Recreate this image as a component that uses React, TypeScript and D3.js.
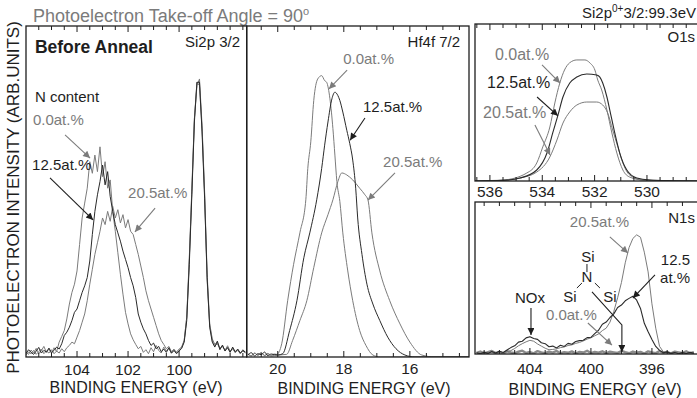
import React from 'react';
import * as d3 from 'd3';

const FONT = '"Liberation Sans", Arial, Helvetica, sans-serif';
const GRAY = '#7b7b7b';
const INK = '#1e1e1e';

type Pt = [number, number];

// ---------- Si 2p 3/2 spectra, sampled every 0.1 eV from 106.0 down to 97.4 eV ----------
const SI2P_EV = d3.range(87).map((i) => Math.round((106 - 0.1 * i) * 10) / 10);
const SI2P_N00 = [
  1.5, 0.8, 2.1, 1.2, 2.6, 1.0, 1.9, 3.2, 1.4, 2.4, 1.1,
  2.8, 1.6, 4.5, 6.2, 8.0, 11.5, 16.0, 19.5, 22.0, 26.0,
  34.0, 42.0, 46.5, 51.0, 59.0, 55.5, 61.0, 56.0, 63.5, 54.5,
  59.0, 51.0, 53.5, 44.0, 38.0, 31.5, 25.0, 19.0, 13.5, 10.0,
  7.0, 5.2, 3.8, 2.5, 3.2, 1.4, 2.2, 1.0, 2.8, 1.6,
  3.5, 2.0, 1.2, 3.0, 1.8, 2.6, 1.1, 2.0, 1.5, 2.4,
  3.0, 5.0, 12, 30, 50, 72, 82, 84, 70, 50,
  25, 10, 5.5, 3.8, 4.5, 2.6, 3.4, 2.0, 3.0, 1.6,
  2.5, 1.3, 2.2, 1.0, 1.8, 1.2,
];
const SI2P_N125 = [
  1.0, 2.2, 1.4, 0.8, 1.8, 2.9, 1.2, 2.0, 1.5, 2.7, 1.3,
  2.0, 3.0, 2.4, 4.0, 6.5, 7.5, 9.0, 11.0, 13.5, 14.5,
  17.0, 19.5, 21.5, 24.0, 29.0, 37.0, 44.0, 49.0, 53.0, 58.0,
  52.0, 56.0, 48.5, 44.0, 40.0, 37.5, 35.0, 32.0, 29.5, 27.0,
  24.0, 21.5, 18.0, 13.0, 10.5, 8.5, 7.0, 5.0, 3.5, 4.2,
  2.5, 3.2, 1.6, 2.4, 1.4, 2.8, 1.2, 2.0, 1.0, 1.8,
  2.6, 4.5, 11, 28, 49, 71, 83, 83, 68, 48,
  24, 9, 4.5, 3.0, 4.8, 2.2, 3.6, 1.8, 2.8, 1.4,
  3.0, 1.6, 2.4, 1.2, 2.0, 1.5,
];
const SI2P_N205 = [
  0.6, 1.5, 1.0, 2.0, 0.8, 1.6, 2.4, 1.0, 1.8, 1.2, 2.2,
  1.0, 1.8, 1.2, 2.5, 1.6, 2.8, 3.5, 4.5, 4.0, 6.0,
  8.0, 10.5, 13.0, 17.0, 22.0, 26.5, 31.0, 34.5, 38.0, 42.0,
  40.0, 44.0, 41.0, 45.5, 42.0, 44.5, 40.5, 43.0, 39.0, 41.5,
  38.0, 37.0, 34.0, 31.0, 27.5, 24.0, 20.0, 17.0, 14.5, 12.0,
  9.5, 7.0, 5.0, 3.8, 2.5, 3.2, 1.6, 2.4, 1.2, 2.0,
  2.8, 5.0, 12, 29, 51, 72, 83, 82, 69, 49,
  23, 9.5, 5.0, 3.4, 4.0, 2.6, 3.2, 2.0, 3.4, 1.8,
  2.6, 1.4, 2.0, 1.0, 2.2, 1.4,
];

// ---------- Hf 4f 7/2 spectra: [binding energy (eV), intensity] ----------
const HF_N00: Pt[] = [
  [20.9, 1.0], [20.8, 0.4], [20.7, 1.2], [20.6, 0.6], [20.5, 1.4], [20.4, 0.5], [20.3, 1.1],
  [20.2, 0.5], [20.1, 0.9], [20.03, 0.8], [19.88, 4], [19.7, 17], [19.52, 28], [19.33, 37.5],
  [19.15, 47.5], [19.09, 57], [19.0, 65], [18.91, 77.5], [18.79, 84], [18.67, 85], [18.58, 83.5],
  [18.52, 83], [18.42, 78], [18.33, 69], [18.27, 61], [18.21, 53], [18.12, 47], [18.03, 37.5],
  [17.88, 26], [17.73, 17], [17.52, 8], [17.33, 3.5], [17.12, 0.6], [16.9, 0], [14.2, 0],
];
const HF_N125: Pt[] = [
  [20.9, 0.6], [20.8, 1.3], [20.7, 0.3], [20.6, 1.0], [20.5, 0.7], [20.4, 1.5], [20.3, 0.4],
  [20.2, 0.9], [20.0, 0.6], [19.85, 1], [19.64, 8], [19.42, 17], [19.21, 30], [19.03, 37.5],
  [18.82, 47.5], [18.67, 57], [18.58, 64], [18.48, 71], [18.36, 78], [18.27, 80], [18.18, 79],
  [18.12, 77.5], [18.03, 74], [17.91, 68.5], [17.82, 64.5], [17.73, 59.5], [17.64, 51],
  [17.58, 42], [17.45, 31], [17.3, 22], [17.12, 16], [16.91, 11], [16.67, 6], [16.42, 2.5],
  [16.15, 0.6], [15.85, 0], [14.2, 0],
];
const HF_N205: Pt[] = [
  [20.9, 0.8], [20.8, 0.3], [20.7, 1.1], [20.6, 0.5], [20.5, 1.2], [20.4, 0.4], [20.3, 0.9],
  [20.2, 0.3], [20.09, 0.5], [19.73, 0.8], [19.55, 5], [19.33, 11], [19.12, 17], [18.91, 27],
  [18.67, 37.5], [18.48, 43], [18.33, 47.5], [18.18, 53], [18.06, 55.6], [17.91, 55],
  [17.73, 53.5], [17.52, 51], [17.36, 49], [17.27, 47.5], [17.15, 37.5], [16.91, 26],
  [16.61, 17], [16.3, 10], [16.0, 4.5], [15.64, 0.6], [15.24, 0], [14.2, 0],
];

// ---------- O 1s spectra ----------
const O1S_N00: Pt[] = [
  [536.57, 0], [536.0, 0.3], [535.5, 0.6], [534.59, 5.1], [534.21, 11.5], [533.98, 21.7],
  [533.71, 34.4], [533.52, 49.7], [533.33, 62.4], [533.15, 70.7], [532.96, 75.2], [532.68, 77.1],
  [532.37, 77.1], [532.18, 75.2], [531.99, 70.7], [531.88, 64.3], [531.73, 58.0], [531.53, 45.2],
  [531.34, 30.6], [531.15, 17.8], [530.92, 7.0], [530.66, 2.5], [530.16, 0.6], [529.5, 0.3],
  [528.05, 0],
];
const O1S_N125: Pt[] = [
  [536.57, 0], [535.5, 0.4], [534.85, 1.9], [534.21, 7.0], [533.82, 17.8], [533.6, 30.6],
  [533.4, 42.0], [533.21, 53.5], [532.95, 62.4], [532.68, 66.2], [532.3, 68.2], [531.92, 67.5],
  [531.8, 66.2], [531.69, 62.4], [531.53, 53.5], [531.42, 45.2], [531.23, 30.6], [531.04, 17.8],
  [530.77, 7.0], [530.39, 1.9], [529.89, 0.6], [529.0, 0.2], [528.05, 0],
];
const O1S_N205: Pt[] = [
  [536.57, 0], [535.5, 0.4], [534.85, 1.9], [534.21, 5.7], [533.71, 15.3], [533.44, 26.1],
  [533.21, 36.9], [532.95, 44.0], [532.68, 48.4], [532.3, 50.3], [531.92, 50.3], [531.69, 48.4],
  [531.5, 43.3], [531.31, 32.5], [531.11, 21.7], [530.92, 11.5], [530.66, 3.8], [530.16, 0.6],
  [529.0, 0.2], [528.05, 0],
];

// ---------- N 1s spectra, sampled every 0.25 eV from 407.5 down to 393.25 eV ----------
const N1S_EV = d3.range(58).map((i) => 407.5 - 0.25 * i);
const N1S_N00 = [
  0.8, 1.6, 0.4, 1.2, 2.0, 0.6, 1.4, 0.3, 1.8, 1.0, 0.5, 1.5, 2.2, 0.7, 1.3, 0.4, 1.9, 1.1, 0.6, 1.6,
  0.9, 2.0, 0.5, 1.2, 0.8, 1.7, 0.3, 1.4, 1.0, 2.1, 0.6, 1.3, 0.9, 1.8, 0.4, 1.5, 1.1, 0.7, 2.0, 1.2,
  0.5, 1.6, 0.9, 1.4, 0.3, 1.7, 1.0, 0.6, 1.9, 0.8, 1.3, 0.4, 1.5, 1.1, 0.7, 1.8, 0.5, 1.2,
];
const N1S_N125 = [
  0.8, 0.2, 1.2, 0.4, 1.6, 0.6, 1.8, 1.0, 2.6, 4.2,
  5.4, 7.8, 8.4, 10.6, 11.4, 10.2, 9.6, 7.4, 6.8, 4.8,
  5.2, 4.0, 5.8, 5.0, 7.0, 6.4, 8.2, 8.8, 9.0, 10.8,
  11.0, 13.4, 15.6, 19.6, 21.0, 24.0, 26.4, 30.6, 32.2, 35.0,
  36.6, 38.0, 35.4, 30.0, 20.2, 14.6, 9.6, 5.0, 2.4, 0.8,
  1.4, 0.4, 1.0, 0.2, 0.9, 0.3, 1.1, 0.4,
];
const N1S_N205 = [
  1.0, 0.4, 1.4, 0.6, 1.2, 0.3, 1.0, 0.8, 1.6, 2.2,
  3.6, 5.4, 6.8, 8.0, 9.0, 8.4, 6.6, 5.2, 3.8, 2.8,
  3.0, 3.4, 4.2, 4.6, 5.6, 6.0, 7.0, 7.6, 8.6, 9.8,
  10.6, 12.0, 13.2, 15.4, 17.0, 21.0, 28.0, 37.0, 47.0, 60.0,
  70.0, 76.0, 78.4, 76.8, 67.0, 54.0, 33.0, 17.0, 5.0, 1.4,
  1.0, 0.5, 1.2, 0.6, 1.0, 0.4, 0.9, 0.5,
];

// ---------- axis ticks ----------
const SI_TICKS = d3.range(105.5, 97.4, -0.5);
const SI_LABELS = [104, 102, 100];
const HF_TICKS = d3.range(20.5, 14.3, -0.5);
const HF_LABELS = [20, 18, 16];
const O_TICKS = d3.range(536.5, 528.1, -0.5);
const O_LABELS = [536, 534, 532, 530];
const N_TICKS = d3.range(407, 393, -1);
const N_LABELS = [404, 400, 396];

// ---------- layout ----------
type Box = { x0: number; x1: number; y0: number; y1: number };
const SI_BOX: Box = { x0: 26, x1: 246.7, y0: 26, y1: 357 };
const HF_BOX: Box = { x0: 246.7, x1: 469, y0: 26, y1: 357 };
const O_BOX: Box = { x0: 475, x1: 698, y0: 24, y1: 181 };
const N_BOX: Box = { x0: 475, x1: 698, y0: 202, y1: 354 };

type Note = { t: string; e: number; v: number; c: string; size?: number; bold?: boolean; anchor?: string };
type Arrow = { pts: Pt[]; c: string };
type Curve = { data: Pt[]; c: string; w: number; smooth?: boolean };

const pair = (ev: number[], vals: number[]): Pt[] => ev.map((e, i) => [e, vals[i]]);

const SI_NOTES: Note[] = [
  { t: 'Before Anneal', e: 105.65, v: 91.8, c: INK, size: 17.5, bold: true },
  { t: 'Si2p 3/2', e: 97.61, v: 93.7, c: INK, anchor: 'end' },
  { t: 'N content', e: 105.65, v: 77.0, c: INK },
  { t: '0.0at.%', e: 105.73, v: 70.1, c: GRAY },
  { t: '12.5at.%', e: 105.76, v: 56.5, c: INK },
  { t: '20.5at.%', e: 102.0, v: 48.0, c: GRAY },
];
const SI_ARROWS: Arrow[] = [
  { pts: [[104.47, 67.1], [103.49, 60.1]], c: GRAY },
  { pts: [[105.06, 54.1], [103.37, 41.4]], c: INK },
  { pts: [[100.94, 45.0], [101.73, 37.8]], c: GRAY },
];

const HF_NOTES: Note[] = [
  { t: 'Hf4f 7/2', e: 14.48, v: 93.7, c: INK, anchor: 'end' },
  { t: '0.0at.%', e: 18.02, v: 88.5, c: GRAY },
  { t: '12.5at.%', e: 17.42, v: 74.0, c: INK },
  { t: '20.5at.%', e: 16.81, v: 57.4, c: GRAY },
];
const HF_ARROWS: Arrow[] = [
  { pts: [[17.9, 86.7], [18.45, 81.0]], c: GRAY },
  { pts: [[17.36, 72.2], [17.81, 65.5]], c: INK },
  { pts: [[16.45, 55.6], [17.27, 47.4]], c: GRAY },
];

const O_NOTES: Note[] = [
  { t: 'O1s', e: 528.16, v: 88.5, c: INK, anchor: 'end' },
  { t: '0.0at.%', e: 535.81, v: 77.1, c: GRAY, size: 16 },
  { t: '12.5at.%', e: 536.11, v: 59.2, c: INK, size: 16 },
  { t: '20.5at.%', e: 536.26, v: 40.1, c: GRAY, size: 16 },
];
const O_ARROWS: Arrow[] = [
  { pts: [[534.01, 73.9], [533.32, 62.4]], c: GRAY },
  { pts: [[534.2, 53.5], [533.4, 41.5]], c: INK },
  { pts: [[534.28, 35.7], [533.7, 16.5]], c: GRAY },
];

const N_NOTES: Note[] = [
  { t: 'N1s', e: 393.18, v: 86.2, c: INK, anchor: 'end' },
  { t: '20.5at.%', e: 401.38, v: 83.6, c: GRAY },
  { t: '12.5', e: 393.5, v: 58.6, c: INK, anchor: 'end' },
  { t: 'at.%', e: 393.5, v: 46.7, c: INK, anchor: 'end' },
  { t: 'Si', e: 400.2, v: 60.5, c: INK, anchor: 'middle' },
  { t: 'N', e: 400.26, v: 47.4, c: INK, anchor: 'middle' },
  { t: 'Si', e: 401.38, v: 34.2, c: INK, anchor: 'middle' },
  { t: 'Si', e: 398.76, v: 34.2, c: INK, anchor: 'middle' },
  { t: 'NOx', e: 404.0, v: 33.6, c: INK, anchor: 'middle' },
  { t: '0.0at.%', e: 402.95, v: 22.4, c: GRAY },
];
const N_BONDS: Pt[][] = [
  [[400.26, 59.2], [400.26, 53.9]],
  [[400.92, 43.4], [400.59, 46.7]],
  [[399.74, 46.7], [399.41, 43.4]],
];
const N_ARROWS: Arrow[] = [
  { pts: [[403.93, 30.3], [403.93, 12.5]], c: INK },
  { pts: [[400.2, 20.4], [398.62, 5.9]], c: GRAY },
  { pts: [[398.76, 77.0], [397.57, 66.4]], c: GRAY },
  { pts: [[395.8, 52.0], [397.25, 36.8]], c: INK },
  { pts: [[399.93, 40.8], [397.97, 19.1], [397.97, 1.3]], c: INK },
];

type PanelProps = {
  id: string;
  box: Box;
  domain: [number, number];
  ticks: number[];
  labels: number[];
  labelDy: number;
  topTicks?: boolean;
  curves: Curve[];
  notes: Note[];
  arrows: Arrow[];
  bonds?: Pt[][];
};

function Panel({ id, box, domain, ticks, labels, labelDy, curves, notes, arrows, bonds = [] }: PanelProps) {
  const x = d3.scaleLinear().domain(domain).range([box.x0, box.x1]);
  const y = d3.scaleLinear().domain([0, 100]).range([box.y1, box.y0]);
  const straight = d3.line<Pt>().x((d) => x(d[0])).y((d) => y(d[1]));
  const smooth = d3.line<Pt>().x((d) => x(d[0])).y((d) => y(d[1])).curve(d3.curveMonotoneX);
  const isLabel = (t: number) => labels.some((l) => Math.abs(l - t) < 1e-6);
  return (
    <g>
      <clipPath id={`clip-${id}`}>
        <rect x={box.x0} y={box.y0} width={box.x1 - box.x0} height={box.y1 - box.y0} />
      </clipPath>
      <g clipPath={`url(#clip-${id})`}>
        {curves.map((c, i) => (
          <path key={i} d={(c.smooth ? smooth : straight)(c.data) || ''} fill="none" stroke={c.c} strokeWidth={c.w} strokeLinejoin="round" />
        ))}
      </g>
      <rect x={box.x0} y={box.y0} width={box.x1 - box.x0} height={box.y1 - box.y0} fill="none" stroke={INK} strokeWidth={1.3} />
      {ticks.map((t) => {
        const len = isLabel(t) ? 6 : 4;
        return (
          <g key={t}>
            <line x1={x(t)} x2={x(t)} y1={box.y1} y2={box.y1 - len} stroke={INK} strokeWidth={1} />
            <line x1={x(t)} x2={x(t)} y1={box.y0} y2={box.y0 + len} stroke={INK} strokeWidth={1} />
          </g>
        );
      })}
      {labels.map((l) => (
        <text key={l} x={x(l)} y={box.y1 + labelDy} textAnchor="middle" fontSize={15.5} fill={INK}>
          {d3.format('d')(l)}
        </text>
      ))}
      {bonds.map((b, i) => (
        <path key={i} d={straight(b) || ''} stroke={INK} strokeWidth={1} fill="none" />
      ))}
      {arrows.map((a, i) => (
        <path key={i} d={straight(a.pts) || ''} stroke={a.c} strokeWidth={1.1} fill="none"
          markerEnd={`url(#head-${a.c === GRAY ? 'gray' : 'ink'})`} />
      ))}
      {notes.map((n, i) => (
        <text key={i} x={x(n.e)} y={y(n.v)} fill={n.c} fontSize={n.size ?? 15}
          fontWeight={n.bold ? 'bold' : 'normal'} textAnchor={n.anchor ?? 'start'}>
          {n.t}
        </text>
      ))}
    </g>
  );
}

export default function App() {
  const siCurves: Curve[] = [
    { data: pair(SI2P_EV, SI2P_N00), c: GRAY, w: 1 },
    { data: pair(SI2P_EV, SI2P_N205), c: GRAY, w: 1 },
    { data: pair(SI2P_EV, SI2P_N125), c: '#2a2a2a', w: 1 },
  ];
  const hfCurves: Curve[] = [
    { data: HF_N00, c: GRAY, w: 1, smooth: true },
    { data: HF_N205, c: GRAY, w: 1, smooth: true },
    { data: HF_N125, c: '#2a2a2a', w: 1, smooth: true },
  ];
  const oCurves: Curve[] = [
    { data: O1S_N00, c: GRAY, w: 1, smooth: true },
    { data: O1S_N205, c: GRAY, w: 1, smooth: true },
    { data: O1S_N125, c: '#2a2a2a', w: 1.1, smooth: true },
  ];
  const nCurves: Curve[] = [
    { data: pair(N1S_EV, N1S_N00), c: '#8a8a8a', w: 2.4 },
    { data: pair(N1S_EV, N1S_N205), c: GRAY, w: 1 },
    { data: pair(N1S_EV, N1S_N125), c: '#2a2a2a', w: 1.1 },
  ];

  return (
    <svg width={697} height={398} viewBox="0 0 697 398"
      style={{ position: 'absolute', left: 0, top: 0, background: '#fff' }} fontFamily={FONT}>
      <defs>
        <marker id="head-gray" viewBox="0 0 10 10" refX={10} refY={5} markerWidth={9} markerHeight={7}
          markerUnits="userSpaceOnUse" orient="auto">
          <path d="M0,0L10,5L0,10z" fill={GRAY} />
        </marker>
        <marker id="head-ink" viewBox="0 0 10 10" refX={10} refY={5} markerWidth={9} markerHeight={7}
          markerUnits="userSpaceOnUse" orient="auto">
          <path d="M0,0L10,5L0,10z" fill={INK} />
        </marker>
      </defs>

      <text x={33} y={21.5} fontSize={18} fill={GRAY}>
        Photoelectron Take-off Angle = 90<tspan dy={-7} fontSize={11}>o</tspan>
      </text>
      <text x={696} y={18} fontSize={15} fill={INK} textAnchor="end">
        Si2p<tspan dy={-6} fontSize={10}>0+</tspan><tspan dy={6}>3/2:99.3eV</tspan>
      </text>

      <text transform="translate(18.5,197.5) rotate(-90)" textAnchor="middle" fontSize={17} fill={INK}>
        PHOTOELECTRON INTENSITY (ARB.UNITS)
      </text>

      <Panel id="si" box={SI_BOX} domain={[106, 97.35]} ticks={SI_TICKS} labels={SI_LABELS} labelDy={18}
        curves={siCurves} notes={SI_NOTES} arrows={SI_ARROWS} />
      <Panel id="hf" box={HF_BOX} domain={[20.94, 14.21]} ticks={HF_TICKS} labels={HF_LABELS} labelDy={17}
        curves={hfCurves} notes={HF_NOTES} arrows={HF_ARROWS} />
      <Panel id="o" box={O_BOX} domain={[536.57, 528.05]} ticks={O_TICKS} labels={O_LABELS} labelDy={16}
        curves={oCurves} notes={O_NOTES} arrows={O_ARROWS} />
      <Panel id="n" box={N_BOX} domain={[407.6, 392.98]} ticks={N_TICKS} labels={N_LABELS} labelDy={20}
        curves={nCurves} notes={N_NOTES} arrows={N_ARROWS} bonds={N_BONDS} />

      <text x={136} y={393} textAnchor="middle" fontSize={16} fill={INK}>BINDING ENERGY (eV)</text>
      <text x={364} y={394} textAnchor="middle" fontSize={16} fill={INK}>BINDING ENERGY (eV)</text>
      <text x={595} y={395} textAnchor="middle" fontSize={16} fill={INK}>BINDING ENERGY (eV)</text>
    </svg>
  );
}
